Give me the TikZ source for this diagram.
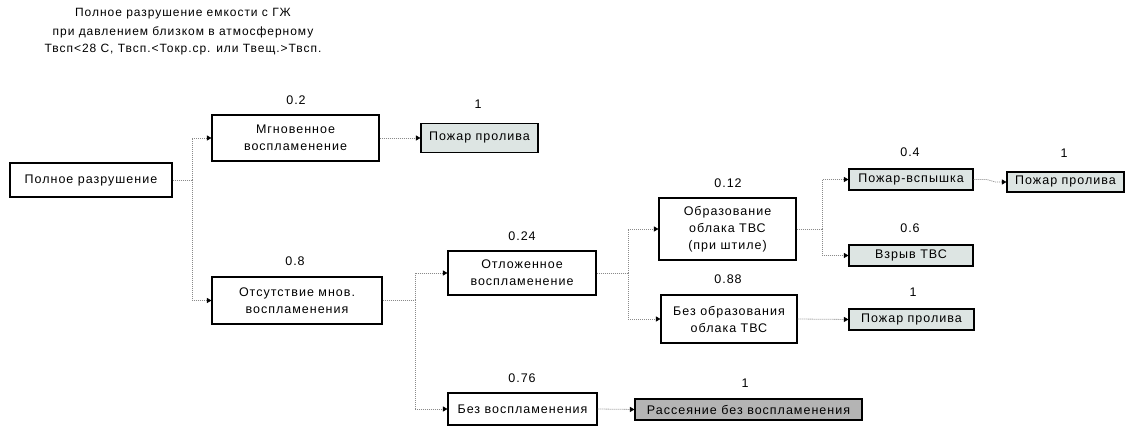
\documentclass[tikz,border=0pt]{standalone}
\usepackage{fontspec}
\setmainfont{Liberation Sans}[LetterSpace=8]
\usetikzlibrary{arrows.meta}
\definecolor{endfill}{HTML}{DDE5E3}
\definecolor{darkfill}{HTML}{B4B4B4}
\definecolor{linkgray}{HTML}{8A8A8A}
\tikzset{
  box/.style={draw=black, line width=1.1pt, fill=white, inner sep=0pt, align=center,
    font=\fontsize{12.5}{17}\selectfont},
  endbox/.style={box, fill=endfill},
  darkbox/.style={box, fill=darkfill},
  prob/.style={inner sep=0pt, font=\fontsize{12.5}{14}\selectfont},
  title/.style={inner sep=0pt, font=\fontsize{12}{14}\selectfont},
  link/.style={draw=linkgray, line width=0.8pt, dash pattern=on 1pt off 1pt,
    -{Triangle[length=4.5pt,width=5pt,fill=black,color=black]}},
  plain/.style={draw=linkgray, line width=0.8pt, dash pattern=on 1pt off 1pt}
}
\begin{document}
\begin{tikzpicture}[x=1pt,y=-1pt]
\useasboundingbox[fill=white] (0,0) rectangle (1128,427);
% title
\node[title] (t1) at (183,14) {Полное разрушение емкости с ГЖ};
\node[title] (t2) at (183,32) {при давлением близком в атмосферному};
\node[title] (t3) at (183,50) {Твсп<28 С, Твсп.<Токр.ср. или Твещ.>Твсп.};
% boxes
\node[box, minimum width=162pt, minimum height=34pt] (A) at (91,180) {Полное разрушение};
\node[box, minimum width=167pt, minimum height=46pt] (B) at (295.5,138) {Мгновенное\\воспламенение};
\node[endbox, minimum width=117pt, minimum height=29pt] (C) at (479.5,138) {Пожар пролива};
\node[box, minimum width=170pt, minimum height=47pt] (D) at (297,300.5) {Отсутствие мнов.\\воспламенения};
\node[box, minimum width=148pt, minimum height=44pt] (E) at (522,273) {Отложенное\\воспламенение};
\node[box, minimum width=149pt, minimum height=32pt] (F) at (522.5,409) {Без воспламенения};
\node[darkbox, minimum width=227pt, minimum height=21pt] (G) at (748.5,409.5) {Рассеяние без воспламенения};
\node[box, minimum width=137pt, minimum height=62pt] (H) at (727.5,229) {Образование\\облака ТВС\\(при штиле)};
\node[box, minimum width=136pt, minimum height=48pt] (I) at (729,319) {Без образования\\облака ТВС};
\node[endbox, minimum width=124pt, minimum height=21pt] (J) at (911,179.5) {Пожар-вспышка};
\node[endbox, minimum width=117pt, minimum height=20pt] (K) at (1065.5,182) {Пожар пролива};
\node[endbox, minimum width=124pt, minimum height=21pt] (L) at (911,255.5) {Взрыв ТВС};
\node[endbox, minimum width=125pt, minimum height=21pt] (M) at (911.5,319.5) {Пожар пролива};
% probabilities
\node[prob] (pB) at (296,100) {0.2};
\node[prob] (pC) at (478,104) {1};
\node[prob] (pD) at (295,261) {0.8};
\node[prob] (pE) at (522,236) {0.24};
\node[prob] (pF) at (522,378) {0.76};
\node[prob] (pG) at (745,383) {1};
\node[prob] (pH) at (728,183) {0.12};
\node[prob] (pI) at (728,279) {0.88};
\node[prob] (pJ) at (910,152) {0.4};
\node[prob] (pK) at (1064,153) {1};
\node[prob] (pL) at (910,228) {0.6};
\node[prob] (pM) at (913,292) {1};
% branch points
\coordinate (a1) at (192,180);
\coordinate (d1) at (415,300.5);
\coordinate (e1) at (628,273);
\coordinate (h1) at (822,229);
% connectors
\path[plain] (A.east) -- (a1);
\path[link] (a1) |- (B.west);
\path[link] (a1) |- (D.west);
\path[link] (B.east) -- (C.west);
\path[plain] (D.east) -- (d1);
\path[link] (d1) |- (E.west);
\path[link] (d1) |- (F.west);
\path[link] (F.east) -- (G.west);
\path[plain] (E.east) -- (e1);
\path[link] (e1) |- (H.west);
\path[link] (e1) |- (I.west);
\path[plain] (H.east) -- (h1);
\path[link] (h1) |- (J.west);
\path[link] (h1) |- (L.west);
\path[link] (I.east) -- (M.west);
\path[link] (J.east) -- ++(13,0) -- ([xshift=-11pt]K.west) -- (K.west);
\end{tikzpicture}
\end{document}
